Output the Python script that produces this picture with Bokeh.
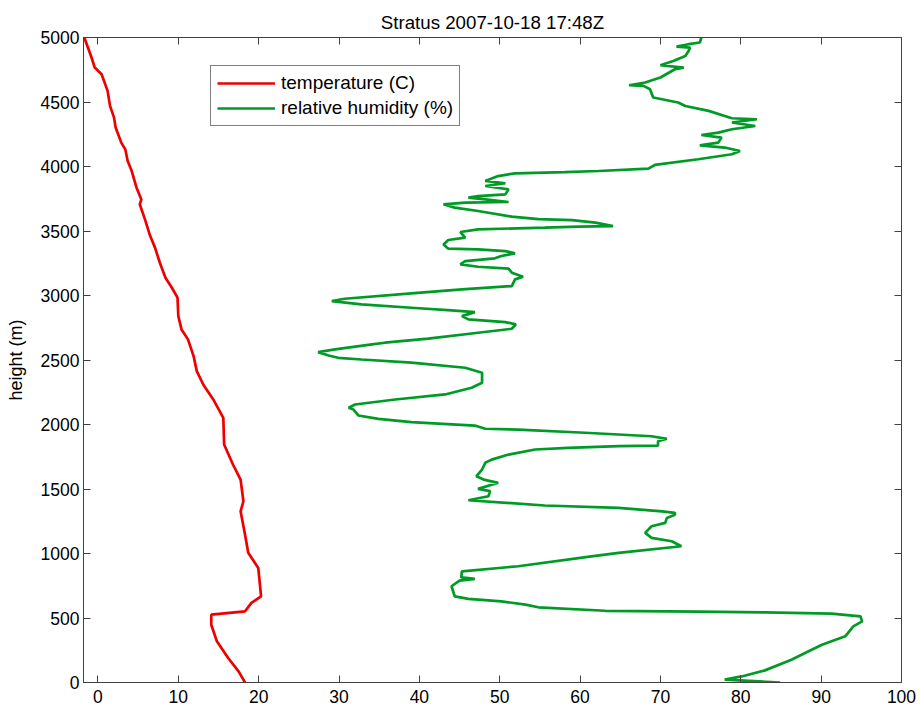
from bokeh.plotting import figure
from bokeh.models import Range1d, FixedTicker, LinearAxis, Legend, LegendItem
from bokeh.embed import file_html
from bokeh.resources import INLINE

title_text = "Stratus 2007-10-18 17:48Z"
y_label = "height (m)"
x_ticks = [0, 10, 20, 30, 40, 50, 60, 70, 80, 90, 100]
y_ticks = [0, 500, 1000, 1500, 2000, 2500, 3000, 3500, 4000, 4500, 5000]

temp_h = [0, 86, 190, 319, 448, 526, 552, 617, 668, 888, 1005, 1147, 1327, 1405, 1573,
          1690, 1845, 2052, 2194, 2310, 2414, 2530, 2660, 2737, 2840, 2983, 3060, 3138,
          3254, 3371, 3461, 3590, 3707, 3745, 3836, 3965, 4043, 4133, 4185, 4302, 4379,
          4470, 4586, 4715, 4767, 4845, 5000]
temp_c = [18.3, 17.5, 16.2, 14.8, 14.1, 14.1, 18.3, 19.1, 20.3, 19.95, 18.7, 18.3, 17.75,
          18.1, 17.75, 16.8, 15.7, 15.6, 14.35, 13.1, 12.3, 11.9, 11.2, 10.4, 10.0, 9.9,
          9.2, 8.4, 7.7, 7.1, 6.5, 5.85, 5.2, 5.4, 4.8, 4.2, 3.7, 3.4, 2.9, 2.2, 2.0, 1.5,
          1.2, 0.45, -0.4, -0.8, -1.7]

rh_h = [0, 22, 47, 94, 177, 229, 293, 358, 435, 474, 513, 534, 544, 549, 556, 583, 604,
        629, 648, 668, 746, 790, 803, 815, 862, 901, 978, 1005, 1056, 1095, 1121, 1160,
        1211, 1237, 1276, 1300, 1315, 1327, 1354, 1372, 1413, 1444, 1483, 1501, 1548,
        1573, 1599, 1651, 1703, 1728, 1767, 1806, 1819, 1832, 1837, 1870, 1889, 1909,
        1936, 1961, 1967, 1992, 2018, 2044, 2070, 2116, 2130, 2155, 2194, 2233, 2285,
        2323, 2401, 2440, 2479, 2504, 2517, 2535, 2561, 2582, 2621, 2634, 2665, 2711,
        2742, 2776, 2794, 2815, 2840, 2871, 2884, 2905, 2931, 2957, 2975, 3016, 3047,
        3073, 3125, 3146, 3177, 3208, 3223, 3241, 3267, 3288, 3306, 3327, 3344, 3358,
        3363, 3396, 3430, 3448, 3492, 3513, 3526, 3534, 3538, 3565, 3585, 3592, 3611,
        3655, 3681, 3707, 3720, 3725, 3745, 3759, 3771, 3784, 3823, 3849, 3870, 3888,
        3926, 3947, 3957, 3965, 3984, 4012, 4056, 4095, 4120, 4147, 4164, 4185, 4224,
        4244, 4263, 4289, 4314, 4341, 4366, 4374, 4392, 4431, 4469, 4496, 4535, 4599,
        4625, 4630, 4651, 4690, 4754, 4767, 4785, 4818, 4857, 4896, 4922, 4930, 4948,
        4961, 5000]
rh_pct = [84.9, 78.0, 80.1, 83.0, 86.3, 88.0, 90.1, 93.0, 94.0, 95.1, 94.9, 91.3, 83.0,
          74.7, 63.1, 54.8, 53.2, 50.2, 46.1, 44.4, 44.0, 45.0, 46.9, 45.2, 45.3, 52.3,
          61.4, 64.8, 72.6, 71.4, 68.9, 68.1, 68.9, 70.6, 70.8, 71.8, 71.8, 70.2, 64.8,
          55.6, 46.1, 48.6, 48.8, 47.3, 49.8, 48.0, 47.1, 47.8, 48.2, 49.0, 51.1, 54.4,
          58.5, 64.8, 69.7, 69.7, 70.8, 68.9, 60.6, 52.3, 48.2, 46.9, 39.0, 34.9, 32.4,
          31.8, 31.2, 32.0, 37.0, 43.2, 46.5, 47.8, 47.8, 45.7, 39.0, 32.8, 29.9, 28.7,
          27.4, 29.5, 34.1, 35.7, 41.1, 47.3, 51.5, 52.0, 50.7, 46.1, 45.3, 46.9, 44.0,
          39.0, 32.8, 29.1, 30.7, 39.0, 45.3, 51.5, 51.9, 52.9, 51.5, 51.1, 47.3, 45.1,
          45.7, 49.4, 50.2, 51.9, 50.7, 47.3, 43.6, 43.0, 43.6, 45.7, 45.1, 47.3, 55.6,
          59.8, 64.1, 61.9, 59.0, 54.8, 51.5, 47.3, 44.4, 43.0, 45.7, 51.1, 48.2, 46.1,
          47.3, 50.7, 51.1, 48.2, 50.7, 48.2, 49.8, 51.9, 58.1, 62.3, 68.5, 69.3, 74.7,
          78.9, 79.9, 78.0, 74.9, 77.2, 77.6, 75.1, 77.2, 78.9, 81.8, 78.9, 82.0, 78.9,
          78.0, 76.0, 73.1, 72.2, 69.1, 68.7, 67.9, 66.1, 68.1, 70.0, 71.8, 72.9, 70.0,
          71.6, 73.1, 73.5, 73.7, 72.0, 73.5, 74.9, 75.1]

series_labels = ["temperature (C)", "relative humidity (%)"]

FONT = "Liberation Sans"
AX = "#404040"

p = figure(frame_width=818, frame_height=645, output_backend="svg", toolbar_location=None,
           x_range=Range1d(-1.8, 100), y_range=Range1d(0, 5000),
           min_border_left=83, min_border_right=16, min_border_top=37, min_border_bottom=29)
p.title.text = title_text
p.title.align = "center"
p.title.text_font = FONT
p.title.text_font_size = "18.7px"
p.title.text_font_style = "normal"
p.title.text_color = "black"
p.title.text_line_height = 0.7
p.title.standoff = 10
p.grid.visible = False
p.outline_line_color = AX
p.outline_line_width = 1
p.background_fill_color = "white"
p.border_fill_color = "white"

for ax in (p.xaxis[0], p.yaxis[0]):
    ax.major_tick_in = 7
    ax.major_tick_out = 0
    ax.minor_tick_line_color = None
    ax.axis_line_color = AX
    ax.major_tick_line_color = AX
    ax.major_label_text_font = FONT
    ax.major_label_text_font_size = "17.5px"
    ax.major_label_text_color = "black"
p.xaxis[0].ticker = FixedTicker(ticks=x_ticks)
p.yaxis[0].ticker = FixedTicker(ticks=y_ticks)
p.xaxis[0].major_label_standoff = 7
p.yaxis[0].major_label_standoff = 4
p.yaxis[0].axis_label = y_label
p.yaxis[0].axis_label_text_font = FONT
p.yaxis[0].axis_label_text_font_size = "18px"
p.yaxis[0].axis_label_text_font_style = "normal"
p.yaxis[0].axis_label_text_color = "black"
p.yaxis[0].axis_label_standoff = 12

top = LinearAxis(ticker=FixedTicker(ticks=x_ticks))
right = LinearAxis(ticker=FixedTicker(ticks=y_ticks))
for ax in (top, right):
    ax.major_tick_in = 7
    ax.major_tick_out = 0
    ax.minor_tick_line_color = None
    ax.axis_line_color = AX
    ax.major_tick_line_color = AX
    ax.major_label_text_font_size = "1px"
    ax.major_label_text_color = None
    ax.major_label_standoff = 0
p.add_layout(top, "above")
p.add_layout(right, "right")

r_t = p.line(temp_c, temp_h, line_color="#ee0000", line_width=2.7)
r_h = p.line(rh_pct, rh_h, line_color="#009a26", line_width=2.7)

legend = Legend(items=[LegendItem(label=series_labels[0], renderers=[r_t]),
                       LegendItem(label=series_labels[1], renderers=[r_h])],
                location=(127, 556))
legend.label_text_font = FONT
legend.label_text_font_size = "19px"
legend.label_text_color = "black"
legend.glyph_width = 58
legend.glyph_height = 20
legend.label_height = 20
legend.label_standoff = 6
legend.spacing = 3
legend.padding = 6
legend.margin = 0
legend.border_line_color = "black"
legend.border_line_width = 1
legend.background_fill_alpha = 1
p.add_layout(legend, "center")

open("out.html", "w").write(file_html(p, INLINE))
